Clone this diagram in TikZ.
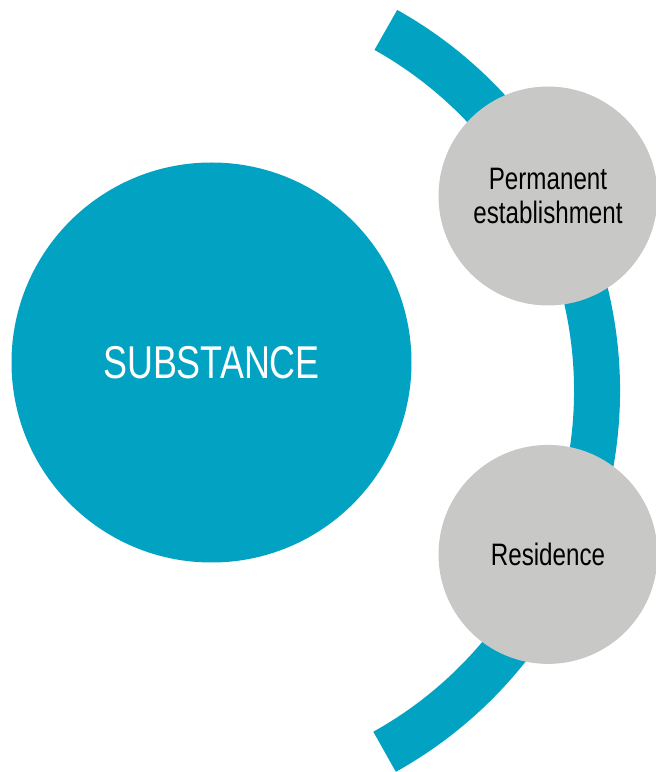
\documentclass[tikz,border=0pt]{standalone}
\usepackage{fontspec}
\setmainfont{Liberation Sans}[FakeStretch=0.78]
\usetikzlibrary{positioning}
\definecolor{teal}{HTML}{02A2C3}
\definecolor{pebble}{HTML}{C8C9C7}

\begin{document}
\begin{tikzpicture}[x=1pt, y=1pt,
    bigdisc/.style={circle, fill=teal, inner sep=0pt, minimum size=400pt, text=white, font=\fontsize{46}{50}\selectfont},
    smalldisc/.style={circle, fill=pebble, inner sep=0pt, minimum size=219pt, text=black, align=center, font=\fontsize{31}{34}\selectfont}]
    \useasboundingbox (0,0) rectangle (656,772);

    \coordinate (hub) at (183.5,381.5);
    \draw[teal, line width=46pt] (hub) ++(60.7:413.5) arc[start angle=60.7, end angle=-60.9, radius=413.5];

    \node[bigdisc] (sub) at (211.5,409.5) {SUBSTANCE};
    \node[smalldisc] (pe) at (548,576) {Permanent\\establishment};
    \node[smalldisc, below=139pt of pe] (res) {Residence};

\end{tikzpicture}
\end{document}
